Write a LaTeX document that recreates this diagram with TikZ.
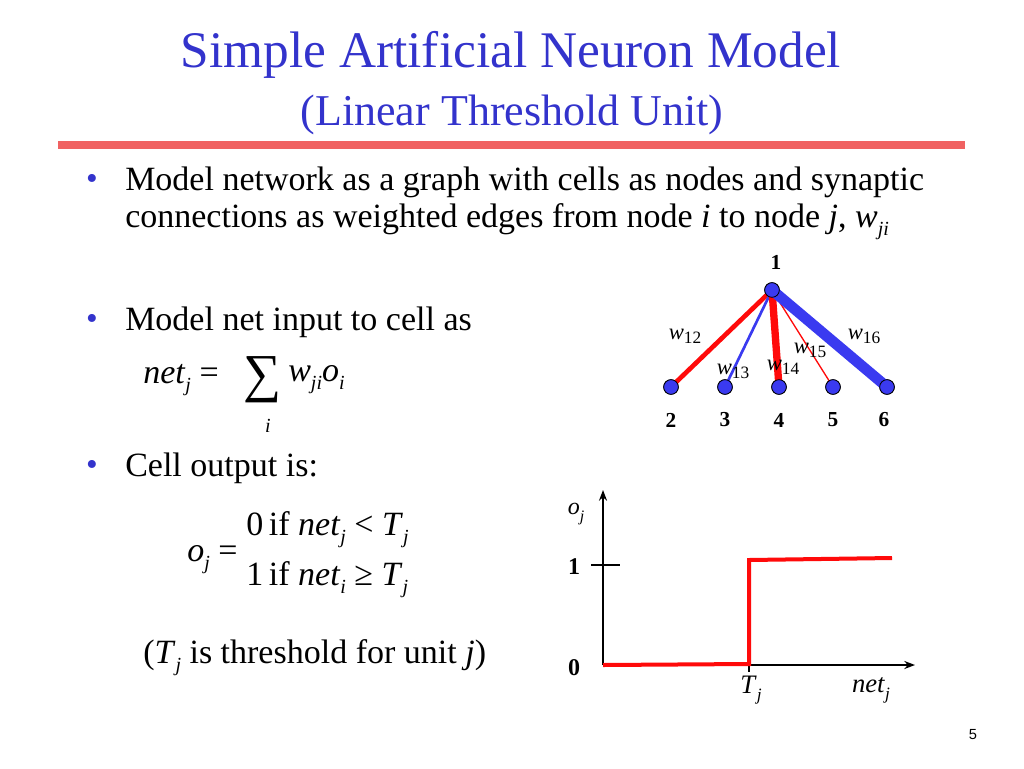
\documentclass[tikz,border=0pt]{standalone}
\usepackage{fontspec}
\setmainfont{Liberation Serif}
\setsansfont{Liberation Sans}
\usetikzlibrary{arrows.meta}
\definecolor{ttl}{HTML}{3333CC}
\definecolor{rl}{HTML}{F06262}
\definecolor{nb}{HTML}{3A3AF0}
\definecolor{er}{HTML}{FF0A0A}
\newcommand{\sbs}[1]{\raisebox{-6pt}{\fontsize{15}{16}\selectfont\textit{#1}}}
\begin{document}
\begin{tikzpicture}[x=0.75pt,y=-0.75pt,
  txt/.style={inner sep=0pt,font=\fontsize{25.5}{28}\selectfont},
  bul/.style={inner sep=0pt,text=ttl,font=\fontsize{25}{28}\selectfont},
  vert/.style={circle,draw=black,fill=nb,minimum size=11pt,inner sep=0pt,line width=0.6pt},
  num/.style={inner sep=0pt,font=\fontsize{16}{18}\selectfont\bfseries},
  wl/.style={inner sep=0pt,font=\fontsize{17}{18}\selectfont},
  ax/.style={line width=1.5pt,-{Stealth[length=8pt,width=6pt]}}]
\useasboundingbox (0,0) rectangle (1024,768);
\node[inner sep=0pt,text=ttl,font=\fontsize{38.5}{40}\selectfont] (t1) at (511,55) {Simple Artificial Neuron Model};
\node[inner sep=0pt,text=ttl,font=\fontsize{33}{36}\selectfont] (t2) at (512,115) {(Linear Threshold Unit)};
\draw[rl,line width=6pt] (58,145) -- (965,145);
% bullets
\node[bul] (b1) at (92,182) {•};
\node[txt,anchor=west] (l1) at (125,182) {Model network as a graph with cells as nodes and synaptic};
\node[txt,anchor=west] (l2) at (125,222) {connections as weighted edges from node \textit{i} to node \textit{j}, \textit{w}\sbs{ji}};
\node[bul] (b2) at (92,322) {•};
\node[txt,anchor=west] (l3) at (125,322) {Model net input to cell as};
\node[txt,anchor=west] (f1) at (143,380) {\textit{net}\sbs{j} =};
\node[inner sep=0pt,font=\fontsize{40}{40}\selectfont] (sum) at (263,380) {∑};
\node[txt,anchor=west] (f2) at (288,380) {\textit{w}\sbs{ji}\textit{o}\sbs{i}};
\node[inner sep=0pt,font=\fontsize{15}{16}\selectfont\itshape] (si) at (268,426) {i};
\node[bul] (b3) at (92,468) {•};
\node[txt,anchor=west] (l4) at (125,468) {Cell output is:};
\node[txt,anchor=west] (oj) at (187,560) {\textit{o}\sbs{j} =};
\node[txt,anchor=west] (c1) at (246,530) {0\,if \textit{net}\sbs{j} < \textit{T}\sbs{j}};
\node[txt,anchor=west] (c2) at (246,580) {1\,if \textit{net}\sbs{i} ≥ \textit{T}\sbs{j}};
\node[txt,anchor=west] (th) at (143,658) {(\textit{T}\sbs{j} is threshold for unit \textit{j})};
% graph
\node[num] (n1l) at (776,262) {1};
\node[vert] (v1) at (772,290) {};
\node[vert] (v2) at (671,387) {};
\node[vert] (v3) at (725,387) {};
\node[vert] (v4) at (779,387) {};
\node[vert] (v5) at (833,387) {};
\node[vert] (v6) at (887,387) {};
\draw[er,line width=3.5pt] (v1.center) -- (v2.center);
\draw[nb,line width=2pt] (v1.center) -- (v3.center);
\draw[er,line width=5.5pt] (v1.center) -- (v4.center);
\draw[er,line width=1pt] (v1.center) -- (v5.center);
\draw[nb,line width=8pt] (v1.center) -- (v6.center);
\foreach \v in {v1,v2,v3,v4,v5,v6}{\node[vert] at (\v) {};}
\node[num] (n2) at (671,420) {2};
\node[num] (n3) at (725,420) {3};
\node[num] (n4) at (779,420) {4};
\node[num] (n5) at (833,420) {5};
\node[num] (n6) at (884,420) {6};
\node[wl] (w12) at (685,336) {\textit{w}\raisebox{-3pt}{\fontsize{13}{14}\selectfont 12}};
\node[wl] (w16) at (864,336) {\textit{w}\raisebox{-3pt}{\fontsize{13}{14}\selectfont 16}};
\node[wl] (w15) at (810,350) {\textit{w}\raisebox{-3pt}{\fontsize{13}{14}\selectfont 15}};
\node[wl] (w13) at (733,371) {\textit{w}\raisebox{-3pt}{\fontsize{13}{14}\selectfont 13}};
\node[wl] (w14) at (783,367) {\textit{w}\raisebox{-3pt}{\fontsize{13}{14}\selectfont 14}};
% axes
\coordinate (o) at (603,665);
\coordinate (ytop) at (603,490);
\coordinate (xend) at (915,665);
\draw[ax] (o) -- (ytop);
\draw[ax] (o) -- (xend);
\coordinate (tk1) at (591,565); \coordinate (tk2) at (620,565);
\draw[line width=0.8pt] (tk1) -- (tk2);
\coordinate (tt1) at (749,665); \coordinate (tt2) at (749,672);
\draw[line width=0.8pt] (tt1) -- (tt2);
\coordinate (r1) at (749,664); \coordinate (r2) at (749,560); \coordinate (r3) at (892,558);
\draw[er,line width=3pt] (o) -- (r1) -- (r2) -- (r3);
\node[num,font=\fontsize{18}{20}\selectfont\bfseries] (y1) at (574,567) {1};
\node[num,font=\fontsize{18}{20}\selectfont\bfseries] (y0) at (574,668) {0};
\node[inner sep=0pt,font=\fontsize{18}{20}\selectfont] (yl) at (576,514) {\textit{o}\raisebox{-5pt}{\fontsize{12}{14}\selectfont\textit{j}}};
\node[inner sep=0pt,font=\fontsize{20}{22}\selectfont] (tl) at (751,690) {\textit{T}\raisebox{-5pt}{\fontsize{13}{14}\selectfont\textit{j}}};
\node[inner sep=0pt,font=\fontsize{20}{22}\selectfont] (nl) at (871,690) {\textit{net}\raisebox{-5pt}{\fontsize{13}{14}\selectfont\textit{j}}};
\node[inner sep=0pt,font=\sffamily\fontsize{11}{13}\selectfont] (pg) at (973,735) {5};
\end{tikzpicture}
\end{document}
